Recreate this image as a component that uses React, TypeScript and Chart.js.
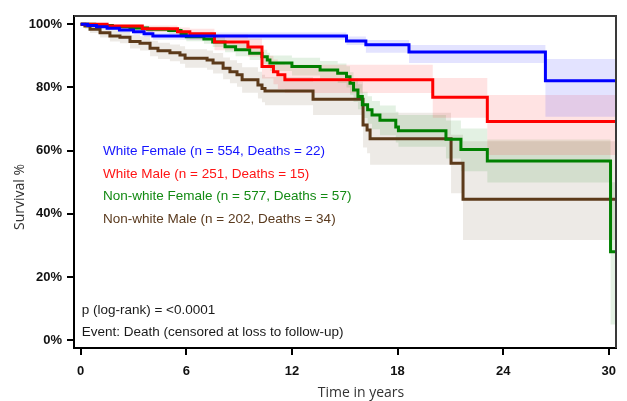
import React, { useEffect, useRef } from "react";
import { Chart, registerables } from "chart.js";

Chart.register(...registerables);

// ---- Data ----
const GROUP_LABELS = [
  "White Female (n = 554, Deaths = 22)",
  "White Male (n = 251, Deaths = 15)",
  "Non-white Female (n = 577, Deaths = 57)",
  "Non-white Male (n = 202, Deaths = 34)",
];
const LINE_COLORS = ["#0000ff", "#ff0000", "#008000", "#5c3a1a"];
const TEXT_COLORS = ["#1414ff", "#ff1414", "#138a13", "#5a3a1e"];
const BAND_COLORS = [
  "rgba(0,0,255,0.11)",
  "rgba(255,0,0,0.11)",
  "rgba(0,128,0,0.11)",
  "rgba(110,80,50,0.12)",
];

// White Female
const wfTime = [0, 0.4, 0.9, 1.5, 2.2, 3.0, 3.6, 4.1, 15.1, 16.2, 18.65, 26.4, 30.4];
const wfSurv = [100, 99.6, 99.2, 98.7, 98.2, 97.6, 97.0, 96.3, 94.7, 93.5, 91.2, 82.1, 82.1];
const wfUpper = [100, 99.9, 99.7, 99.3, 98.9, 98.5, 98.0, 97.4, 96.1, 95.0, 93.4, 89.0, 89.0];
const wfLower = [100, 99.3, 98.7, 98.1, 97.4, 96.7, 96.0, 95.1, 93.4, 91.0, 87.7, 70.7, 70.7];

// White Male
const wmTime = [0, 1.5, 3.5, 5.5, 6.2, 7.6, 9.5, 10.3, 10.95, 11.2, 11.6, 20.0, 23.1, 30.4];
const wmSurv = [100, 99.4, 98.6, 97.6, 97.0, 94.4, 92.8, 86.6, 85.0, 84.0, 82.4, 76.9, 69.2, 69.2];
const wmUpper = [100, 99.9, 99.6, 99.0, 98.6, 96.8, 95.5, 90.0, 88.8, 88.0, 87.2, 83.0, 77.6, 77.6];
const wmLower = [100, 98.7, 97.5, 96.0, 95.2, 91.8, 89.8, 82.8, 81.0, 79.5, 78.2, 70.4, 58.6, 58.6];

// Non-white Female
const nfTime = [0, 0.8, 1.8, 2.8, 3.8, 5.0, 5.7, 6.0, 7.0, 7.5, 8.2, 8.8, 9.6, 10.3, 10.6, 10.75, 12.0, 13.6, 14.6, 15.1, 15.3, 15.5, 15.75, 16.0, 16.3, 16.55, 17.0, 17.9, 18.05, 20.75, 21.6, 23.1, 30.1, 30.4];
const nfSurv = [100, 99.6, 99.2, 98.8, 98.4, 98.0, 96.9, 96.0, 95.3, 94.4, 92.9, 91.9, 90.8, 89.7, 88.7, 87.7, 86.6, 85.5, 84.5, 83.4, 81.3, 79.2, 77.1, 74.5, 72.9, 71.3, 69.6, 67.5, 66.3, 63.6, 60.4, 56.7, 28.0, 28.0];
const nfUpper = [100, 99.9, 99.7, 99.5, 99.2, 98.9, 98.0, 97.3, 96.7, 95.9, 94.6, 93.8, 92.8, 91.9, 91.0, 90.1, 89.4, 88.4, 87.6, 86.7, 84.8, 82.9, 81.0, 78.6, 77.2, 75.7, 74.3, 72.3, 71.3, 69.5, 67.0, 63.5, 50.0, 50.0];
const nfLower = [100, 99.2, 98.6, 98.0, 97.5, 97.0, 95.7, 94.6, 93.8, 92.8, 91.1, 89.9, 88.7, 87.4, 86.3, 85.2, 83.8, 82.6, 81.4, 80.0, 77.7, 75.4, 73.1, 70.3, 68.5, 66.8, 64.9, 62.6, 61.2, 57.5, 53.5, 49.9, 5.0, 5.0];

// Non-white Male
const nmTime = [0, 0.24, 0.53, 1.1, 1.66, 2.23, 2.8, 3.37, 3.94, 4.39, 5.07, 5.64, 5.93, 7.18, 7.52, 8.09, 8.48, 8.88, 9.17, 10.07, 10.3, 10.47, 13.2, 16.04, 16.27, 16.44, 21.04, 21.72, 30.4];
const nmSurv = [100, 99.4, 98.4, 97.3, 96.3, 95.9, 94.5, 94.0, 92.4, 91.6, 91.0, 90.3, 89.2, 88.7, 87.7, 86.1, 85.0, 84.0, 82.4, 80.8, 79.7, 78.9, 76.3, 68.1, 66.5, 63.8, 56.0, 44.6, 44.6];
const nmUpper = [100, 100, 99.4, 98.7, 98.0, 97.7, 96.6, 96.2, 94.8, 94.1, 93.6, 93.0, 92.1, 91.7, 90.9, 89.5, 88.6, 87.7, 86.4, 85.0, 84.0, 83.3, 81.8, 75.0, 73.6, 72.0, 65.0, 63.0, 63.0];
const nmLower = [100, 98.6, 97.2, 95.8, 94.5, 94.0, 92.3, 91.7, 89.9, 89.0, 88.3, 87.5, 86.2, 85.6, 84.4, 82.6, 81.3, 80.2, 78.3, 76.5, 75.3, 74.4, 71.3, 61.0, 59.2, 55.5, 46.5, 31.7, 31.7];

const GROUPS = [
  { time: wfTime, surv: wfSurv, upper: wfUpper, lower: wfLower },
  { time: wmTime, surv: wmSurv, upper: wmUpper, lower: wmLower },
  { time: nfTime, surv: nfSurv, upper: nfUpper, lower: nfLower },
  { time: nmTime, surv: nmSurv, upper: nmUpper, lower: nmLower },
];

const TIME_TICKS = [0, 6, 12, 18, 24, 30];
const SURV_TICKS = [0, 20, 40, 60, 80, 100];
const X_TITLE = "Time in years";
const Y_TITLE = "Survival %";
const NOTE_LINES = ["p (log-rank) = <0.0001", "Event: Death (censored at loss to follow-up)"];

const pts = (t: number[], v: number[]) => t.map((x, i) => ({ x, y: v[i] }));

const overlayPlugin = {
  id: "overlay",
  afterDraw(chart: any) {
    const { ctx, chartArea } = chart;
    const { left, top, right, bottom } = chartArea;
    ctx.save();
    // top & right frame
    ctx.strokeStyle = "#3a3a3a";
    ctx.lineWidth = 2;
    ctx.beginPath();
    ctx.moveTo(left, top);
    ctx.lineTo(right, top);
    ctx.lineTo(right, bottom);
    ctx.stroke();

    // legend text
    ctx.font = "13.5px 'Liberation Sans', Arial, sans-serif";
    ctx.textBaseline = "middle";
    ctx.textAlign = "left";
    GROUP_LABELS.forEach((lab, i) => {
      ctx.fillStyle = TEXT_COLORS[i];
      ctx.fillText(lab, left + 29, top + 135.7 + i * 22.5);
    });
    // notes
    ctx.fillStyle = "#1a1a1a";
    NOTE_LINES.forEach((lab, i) => {
      ctx.fillText(lab, left + 7.7, top + 294 + i * 22.7);
    });

    // axis titles
    ctx.fillStyle = "#333";
    ctx.font = "14px 'Open Sans', sans-serif";
    ctx.textAlign = "center";
    ctx.fillText(X_TITLE, 361, 393);
    ctx.translate(20, 197);
    ctx.rotate(-Math.PI / 2);
    ctx.fillText(Y_TITLE, 0, 0);
    ctx.restore();
  },
};

export default function App() {
  const ref = useRef<HTMLCanvasElement | null>(null);
  useEffect(() => {
    if (!ref.current) return;
    const datasets: any[] = [];
    GROUPS.forEach((g, i) => {
      datasets.push({
        data: pts(g.time, g.upper),
        borderWidth: 0,
        borderColor: "rgba(0,0,0,0)",
        pointRadius: 0,
        stepped: true,
        fill: false,
        order: 2,
      });
      datasets.push({
        data: pts(g.time, g.lower),
        borderWidth: 0,
        borderColor: "rgba(0,0,0,0)",
        backgroundColor: BAND_COLORS[i],
        pointRadius: 0,
        stepped: true,
        fill: 2 * i,
        order: 2,
      });
    });
    GROUPS.forEach((g, i) => {
      datasets.push({
        data: pts(g.time, g.surv),
        borderColor: LINE_COLORS[i],
        borderWidth: 3,
        pointRadius: 0,
        stepped: true,
        fill: false,
        order: 0,
      });
    });

    const chart = new Chart(ref.current, {
      type: "line",
      data: { datasets },
      options: {
        responsive: false,
        animation: false,
        layout: { padding: { top: 16, right: 11, left: 0, bottom: 0 } },
        plugins: { legend: { display: false }, tooltip: { enabled: false } },
        scales: {
          x: {
            type: "linear",
            min: -0.38,
            max: 30.41,
            afterBuildTicks: (s: any) => {
              s.ticks = TIME_TICKS.map((v) => ({ value: v }));
            },
            afterFit: (s: any) => {
              s.height = 53;
            },
            grid: { display: true, drawOnChartArea: false, drawTicks: true, tickLength: 7, color: "#000", lineWidth: 2 },
            border: { display: true, color: "#000", width: 2 },
            ticks: {
              padding: 9,
              color: "#111",
              font: { family: "'Liberation Sans', Arial, sans-serif", size: 13, weight: "bold" },
              maxRotation: 0,
            },
          },
          y: {
            type: "linear",
            min: -2.44,
            max: 102.6,
            afterBuildTicks: (s: any) => {
              s.ticks = SURV_TICKS.map((v) => ({ value: v }));
            },
            afterFit: (s: any) => {
              s.width = 74;
            },
            grid: { display: true, drawOnChartArea: false, drawTicks: true, tickLength: 7, color: "#000", lineWidth: 2 },
            border: { display: true, color: "#000", width: 2 },
            ticks: {
              padding: 5,
              color: "#111",
              font: { family: "'Liberation Sans', Arial, sans-serif", size: 13, weight: "bold" },
              callback: (v: any) => v + "%",
            },
          },
        },
      },
      plugins: [overlayPlugin],
    } as any);
    return () => chart.destroy();
  }, []);

  return (
    <div style={{ position: "absolute", left: 0, top: 0, width: 627, height: 401, background: "#fff" }}>
      <canvas ref={ref} width={627} height={401} style={{ display: "block" }} />
    </div>
  );
}
